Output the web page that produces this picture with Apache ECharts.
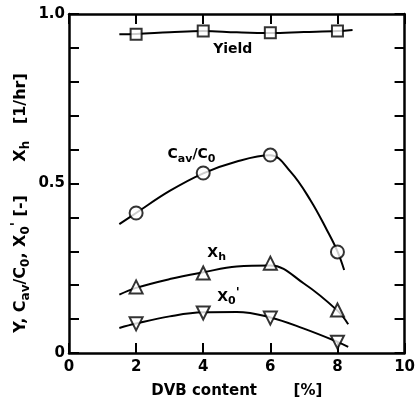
<!DOCTYPE html>
<html>
<head>
<meta charset="utf-8">
<script src="https://cdn.jsdelivr.net/npm/echarts@6/dist/echarts.min.js"></script>
<style>
html,body{margin:0;padding:0;background:#fff;}
#main{width:418px;height:407px;}
</style>
</head>
<body>
<div id="main"></div>
<script>
// measured points (DVB content %)
var dvb = [2, 4, 6, 8];
var yieldPts = [0.94, 0.95, 0.945, 0.95];
var cavPts = [0.413, 0.531, 0.584, 0.298];
var xhPts = [0.195, 0.236, 0.265, 0.127];
var x0Pts = [0.086, 0.118, 0.103, 0.032];

// fitted curves as drawn in the figure [x, y]
var yieldCurve = [[1.5, 0.94], [2, 0.941], [3, 0.946], [4, 0.95], [5, 0.946], [6, 0.944], [7, 0.947], [8, 0.95], [8.45, 0.953]];
var cavCurve = [[1.5, 0.38], [2, 0.413], [3, 0.478], [4, 0.53], [5, 0.565], [6, 0.583], [6.6, 0.535], [7.2, 0.45], [7.7, 0.36], [8, 0.3], [8.2, 0.245]];
var xhCurve = [[1.5, 0.172], [2, 0.192], [3, 0.218], [4, 0.238], [5, 0.255], [6, 0.258], [7, 0.205], [8, 0.125], [8.32, 0.085]];
var x0Curve = [[1.5, 0.074], [2, 0.087], [3, 0.108], [4, 0.12], [5, 0.121], [6, 0.105], [7, 0.072], [8, 0.033], [8.32, 0.018]];

var curveLabels = [
    {text: '{n|Yield}', at: [4.88, 0.895]},
    {text: '{n|C}{s|av}{n|/C}{s|0}', at: [3.65, 0.585]},
    {text: '{n|X}{s|h}', at: [4.4, 0.295]},
    {text: "{n|X}{s|0}{p|'}", at: [4.75, 0.165]}
];

function pairs(xs, ys) {
    var out = [];
    for (var i = 0; i < xs.length; i++) out.push([xs[i], ys[i]]);
    return out;
}

var font = '"DejaVu Sans", sans-serif';
var chart = echarts.init(document.getElementById('main'));

var axisLine = {show: true, onZero: false, lineStyle: {color: '#000', width: 2.5}};
var tick = {show: true, inside: true, length: 10, lineStyle: {width: 2, color: '#000'}};
var labelFont = {color: '#000', fontWeight: 'bold', fontSize: 15, fontFamily: font};

var option = {
    backgroundColor: '#fff',
    animation: false,
    grid: {left: 69, right: 9, top: 14, bottom: 54},
    xAxis: [{
        type: 'value', min: 0, max: 10, interval: 2,
        axisLine: axisLine,
        axisTick: tick,
        axisLabel: Object.assign({margin: 7}, labelFont),
        splitLine: {show: false},
        name: 'DVB content       [%]',
        nameLocation: 'middle', nameGap: 31,
        nameTextStyle: labelFont
    }, {
        type: 'value', min: 0, max: 10, interval: 2, position: 'top',
        axisLine: axisLine,
        axisTick: tick,
        axisLabel: {show: false},
        splitLine: {show: false}
    }],
    yAxis: [{
        type: 'value', min: 0, max: 1, interval: 0.1,
        axisLine: axisLine,
        axisTick: tick,
        axisLabel: Object.assign({
            margin: 4,
            formatter: function (v) {
                if (Math.abs(v) < 1e-6) return '0';
                if (Math.abs(v - 0.5) < 1e-6) return '0.5';
                if (Math.abs(v - 1) < 1e-6) return '1.0';
                return '';
            }
        }, labelFont),
        splitLine: {show: false}
    }, {
        type: 'value', min: 0, max: 1, interval: 0.1, position: 'right',
        axisLine: axisLine,
        axisTick: tick,
        axisLabel: {show: false},
        splitLine: {show: false}
    }],
    series: [
        {type: 'line', data: yieldCurve, smooth: 0.4, symbol: 'none', lineStyle: {color: '#000', width: 2}},
        {type: 'line', data: cavCurve, smooth: 0.4, symbol: 'none', lineStyle: {color: '#000', width: 2}},
        {type: 'line', data: xhCurve, smooth: 0.4, symbol: 'none', lineStyle: {color: '#000', width: 2}},
        {type: 'line', data: x0Curve, smooth: 0.4, symbol: 'none', lineStyle: {color: '#000', width: 2}},
        {type: 'scatter', data: pairs(dvb, yieldPts), symbol: 'rect', symbolSize: 11, z: 5,
            itemStyle: {color: '#fff', borderColor: '#000', borderWidth: 2}},
        {type: 'scatter', data: pairs(dvb, cavPts), symbol: 'circle', symbolSize: 13, z: 5,
            itemStyle: {color: '#fff', borderColor: '#000', borderWidth: 2}},
        {type: 'scatter', data: pairs(dvb, xhPts), symbol: 'triangle', symbolSize: 13, z: 5,
            itemStyle: {color: '#fff', borderColor: '#000', borderWidth: 2}},
        {type: 'scatter', data: pairs(dvb, x0Pts), symbol: 'triangle', symbolRotate: 180, symbolSize: 13, z: 5,
            itemStyle: {color: '#fff', borderColor: '#000', borderWidth: 2}}
    ]
};

chart.setOption(option);

var rich = {
    n: {fontSize: 14, fontWeight: 'bold', fontFamily: font, color: '#000'},
    s: {fontSize: 11, fontWeight: 'bold', fontFamily: font, color: '#000', padding: [8, 0, 0, 0]},
    p: {fontSize: 13, fontWeight: 'bold', fontFamily: font, color: '#000', padding: [0, 0, 8, 0]}
};
var richY = {
    n: {fontSize: 16, fontWeight: 'bold', fontFamily: font, color: '#000'},
    s: {fontSize: 12, fontWeight: 'bold', fontFamily: font, color: '#000', padding: [9, 0, 0, 0]},
    p: {fontSize: 14, fontWeight: 'bold', fontFamily: font, color: '#000', padding: [0, 0, 9, 0]}
};

var graphics = [];
curveLabels.forEach(function (l) {
    var p = chart.convertToPixel({gridIndex: 0}, l.at);
    graphics.push({
        type: 'text', x: p[0], y: p[1], z: 10,
        style: {text: l.text, rich: rich, align: 'center', verticalAlign: 'middle', fill: '#000'}
    });
});
graphics.push({
    type: 'text', x: 21, y: 203, rotation: Math.PI / 2, z: 10,
    style: {
        text: "{n|Y, C}{s|av}{n|/C}{s|0}{n|, X}{s|0}{p|'}{n| [-]      X}{s|h}{n|   [1/hr]}",
        rich: richY, align: 'center', verticalAlign: 'middle', fill: '#000'
    }
});
chart.setOption({graphic: graphics});
</script>
</body>
</html>
